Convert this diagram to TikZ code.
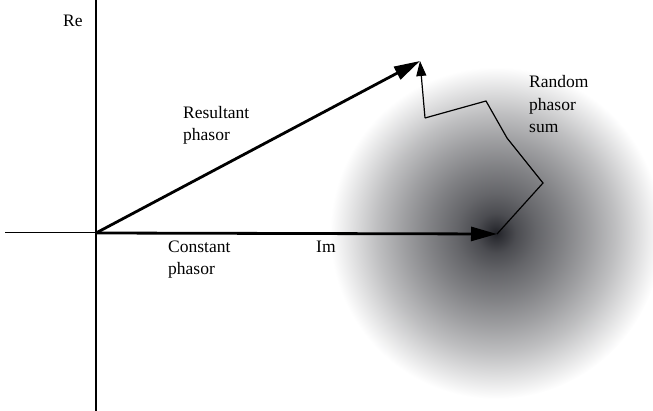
\documentclass[tikz,border=0pt]{standalone}
\usepackage{fontspec}
\setmainfont{Liberation Serif}
\usetikzlibrary{arrows.meta}
\definecolor{sh}{RGB}{25,26,32}
\pgfdeclareradialshading{blob}{\pgfpoint{0bp}{0bp}}{%
color(0bp)=(sh!97);
color(1bp)=(sh!90);
color(3bp)=(sh!78);
color(6bp)=(sh!67);
color(10bp)=(sh!55);
color(14bp)=(sh!42);
color(18bp)=(sh!28);
color(22bp)=(sh!12);
color(25bp)=(white);
color(50bp)=(white)}
\tikzset{
  lbl/.style={font=\fontsize{17.5}{22.5}\selectfont, inner sep=0pt, anchor=base west, align=left},
  axis/.style={line width=1.4pt, black},
  phasor/.style={line width=2.8pt, black, -{Triangle[length=26pt,width=14pt]}},
  rand/.style={line width=1.2pt, black, line join=miter},
}
\begin{document}
\begin{tikzpicture}[x=1pt,y=-1pt]
\useasboundingbox (0,0) rectangle (653,411);
\shade[shading=blob] (496,233) circle (166);
\coordinate (O) at (96,233);
\coordinate (C) at (497,234);
\coordinate (R) at (420,61);
\coordinate (P1) at (543,183);
\coordinate (P2) at (507,138);
\coordinate (P3) at (486,101);
\coordinate (P4) at (425,118);
\coordinate (Ltop) at (96,0);
\coordinate (Lbot) at (96,411);
\coordinate (Hl) at (5,233);
% axes
\draw[axis] (Ltop) -- (Lbot);
\draw[line width=1pt] (Hl) -- (O);
% phasors
\draw[phasor] (O) -- (C);
\draw[phasor] (O) -- (R);
\draw[rand] (C) -- (P1) -- (P2) -- (P3) -- (P4);
\draw[rand, -{Triangle[length=15pt,width=10pt]}] (P4) -- (R);
% labels (base anchor = baseline of last line)
\node[lbl] (re) at (63,27) {Re};
\node[lbl] (res) at (183,141) {Resultant\\phasor};
\node[lbl] (rnd) at (529,133) {Random\\phasor\\sum};
\node[lbl] (con) at (168,275) {Constant\\phasor};
\node[lbl] (im) at (316,253) {Im};
\end{tikzpicture}
\end{document}
